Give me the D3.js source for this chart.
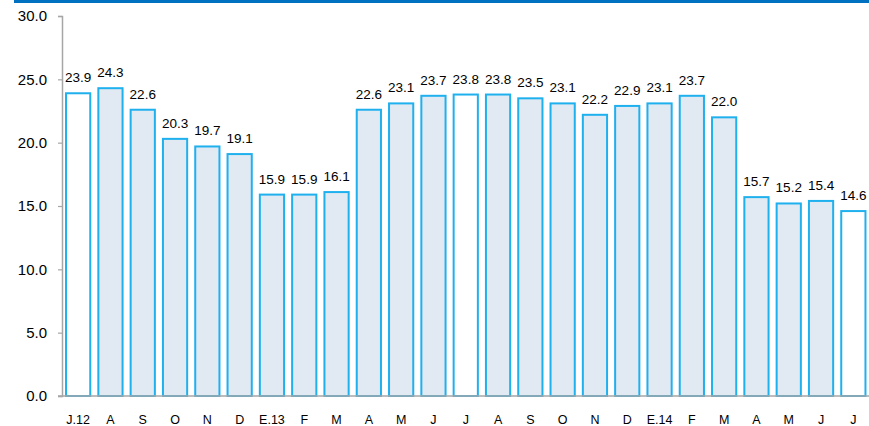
<!DOCTYPE html>
<html>
<head>
<meta charset="utf-8">
<script src="https://cdn.jsdelivr.net/npm/d3@7"></script>
<style>
  html, body { margin: 0; padding: 0; background: #fff; }
  svg { display: block; font-family: "Liberation Sans", Arial, sans-serif; }
</style>
</head>
<body>
<svg id="chart" width="869" height="426"></svg>
<script>
const categories = ["J.12","A","S","O","N","D","E.13","F","M","A","M","J","J","A","S","O","N","D","E.14","F","M","A","M","J","J"];
const values = [23.9,24.3,22.6,20.3,19.7,19.1,15.9,15.9,16.1,22.6,23.1,23.7,23.8,23.8,23.5,23.1,22.2,22.9,23.1,23.7,22.0,15.7,15.2,15.4,14.6];
const highlighted = [0, 12, 24]; // July bars drawn white
const yTicks = [0, 5, 10, 15, 20, 25, 30];

const svg = d3.select("#chart");
const W = 869, H = 426;

// top rule
svg.append("rect").attr("x", 14).attr("y", 0).attr("width", W - 14).attr("height", 3).attr("fill", "#0070c0");

const x = d3.scaleBand().domain(d3.range(categories.length)).range([62, 869.5]).paddingInner(0.25).paddingOuter(0.125);
const y = d3.scaleLinear().domain([0, 30]).range([396, 16]);

// y axis
const yAxis = d3.axisLeft(y).tickValues(yTicks).tickFormat(d3.format(".1f")).tickSize(4).tickPadding(11);
const gy = svg.append("g").attr("transform", "translate(62,0)").call(yAxis);
gy.select(".domain").attr("stroke", "#a6a6a6").attr("stroke-width", 1.5);
gy.selectAll(".tick line").attr("stroke", "#a6a6a6").attr("stroke-width", 1.2);
gy.selectAll(".tick text").attr("fill", "#000").style("font-size", "15px").style("font-family", "Liberation Sans, Arial, sans-serif");

// bars
svg.append("g").selectAll("rect").data(values).join("rect")
  .attr("x", (d, i) => x(i))
  .attr("y", d => y(d))
  .attr("width", x.bandwidth())
  .attr("height", d => y(0) - y(d))
  .attr("fill", (d, i) => highlighted.includes(i) ? "#ffffff" : "#e1e9f3")
  .attr("stroke", "#1fb0ee")
  .attr("stroke-width", 2);

// baseline
svg.append("line").attr("x1", 58).attr("x2", W).attr("y1", y(0)).attr("y2", y(0))
  .attr("stroke", "#a6a6a6").attr("stroke-width", 1.5);

// value labels
svg.append("g").selectAll("text").data(values).join("text")
  .attr("x", (d, i) => x(i) + x.bandwidth() / 2)
  .attr("y", d => y(d) - 11)
  .attr("text-anchor", "middle")
  .style("font-size", "13.5px")
  .attr("fill", "#000")
  .text(d => d3.format(".1f")(d));

// category labels
const xAxis = d3.axisBottom(x).tickFormat(i => categories[i]).tickSize(0).tickPadding(19);
const gx = svg.append("g").attr("transform", `translate(0,${y(0)})`).call(xAxis);
gx.select(".domain").remove();
gx.selectAll(".tick text").attr("fill", "#000").style("font-size", "12.5px").style("font-family", "Liberation Sans, Arial, sans-serif");
</script>
</body>
</html>
